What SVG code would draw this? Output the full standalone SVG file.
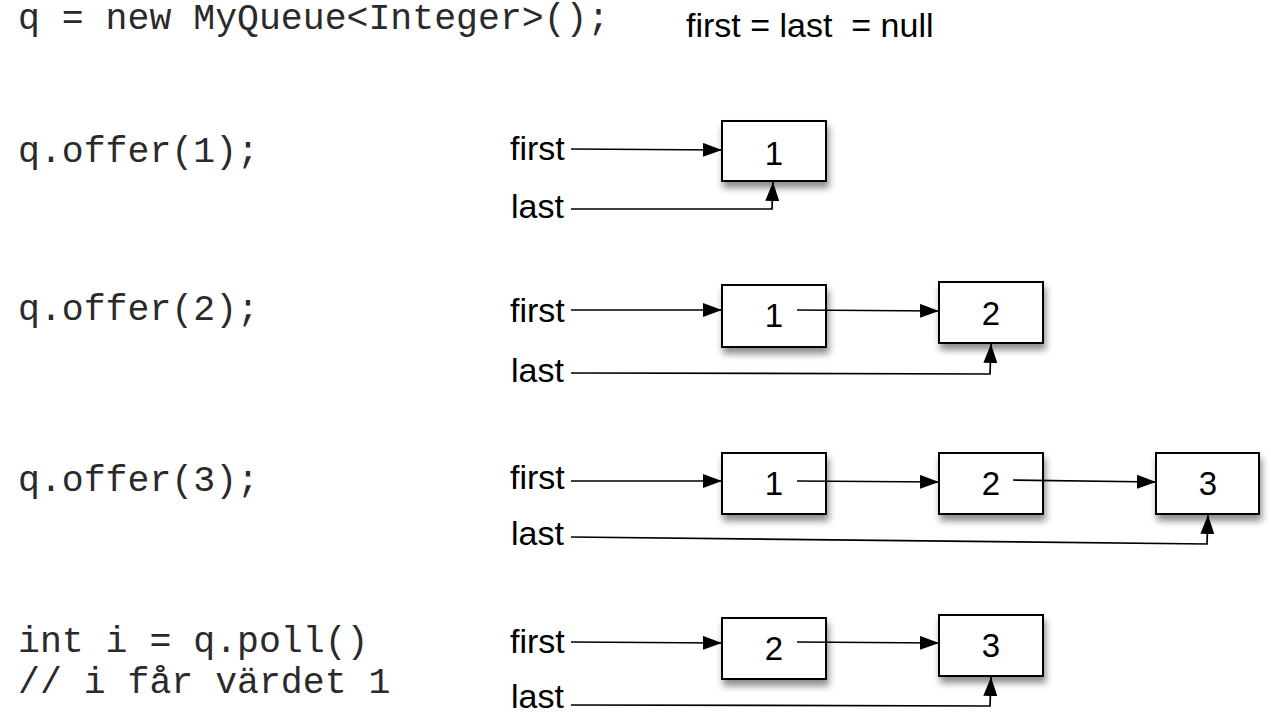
<svg xmlns="http://www.w3.org/2000/svg" width="1271" height="713" viewBox="0 0 1271 713">
<defs>
<filter id="sh" x="-20%" y="-20%" width="150%" height="170%">
<feDropShadow dx="2" dy="6" stdDeviation="3.5" flood-color="#000" flood-opacity="0.45"/>
</filter>
<marker id="ah" markerWidth="19" markerHeight="14" refX="19" refY="7" orient="auto" markerUnits="userSpaceOnUse">
<path d="M0,0 L19,7 L0,14 Z" fill="#000"/>
</marker>
</defs>
<style>
.code{font-family:"Liberation Mono","DejaVu Sans Mono",monospace;font-size:36.5px;fill:#2a2a2a}
.lbl{font-family:"Liberation Sans",Arial,sans-serif;font-size:34px;fill:#000;white-space:pre}
.num{font-family:"Liberation Sans",Arial,sans-serif;font-size:33px;fill:#000;text-anchor:middle}
.box rect{fill:#fff;stroke:#000;stroke-width:2;filter:url(#sh)}
.con path{fill:none;stroke:#000;stroke-width:1.7;marker-end:url(#ah)}
</style>
<rect width="1271" height="713" fill="#fff"/>
<g id="code">
<text class="code" x="18" y="29">q = new MyQueue&lt;Integer&gt;();</text>
<text class="code" x="18" y="162">q.offer(1);</text>
<text class="code" x="18" y="320">q.offer(2);</text>
<text class="code" x="18" y="491">q.offer(3);</text>
<text class="code" x="18" y="652">int i = q.poll()</text>
<text class="code" x="18" y="693">// i får värdet 1</text>
</g>
<text class="lbl" x="686" y="37" xml:space="preserve">first = last  = null</text>
<g id="labels">
<text class="lbl" x="510" y="160">first</text>
<text class="lbl" x="511" y="218">last</text>
<text class="lbl" x="510" y="322">first</text>
<text class="lbl" x="511" y="382">last</text>
<text class="lbl" x="510" y="489">first</text>
<text class="lbl" x="511" y="545">last</text>
<text class="lbl" x="510" y="653">first</text>
<text class="lbl" x="511" y="708">last</text>
</g>
<g id="r1n1" class="box"><rect x="722" y="121" width="104" height="60"/><text class="num" x="774" y="165">1</text></g>
<g id="r2n1" class="box"><rect x="722" y="285" width="104" height="62"/><text class="num" x="774" y="327">1</text></g>
<g id="r2n2" class="box"><rect x="939" y="282" width="104" height="61"/><text class="num" x="991" y="325">2</text></g>
<g id="r3n1" class="box"><rect x="722" y="453" width="104" height="61"/><text class="num" x="774" y="495">1</text></g>
<g id="r3n2" class="box"><rect x="939" y="453" width="104" height="61"/><text class="num" x="991" y="495">2</text></g>
<g id="r3n3" class="box"><rect x="1156" y="453" width="103" height="61"/><text class="num" x="1208" y="495">3</text></g>
<g id="r4n1" class="box"><rect x="722" y="618" width="104" height="61"/><text class="num" x="774" y="660">2</text></g>
<g id="r4n2" class="box"><rect x="939" y="615" width="104" height="61"/><text class="num" x="991" y="657">3</text></g>
<g id="connectors" class="con">
<path d="M571,149 L722,150"/>
<path d="M571,209 L772,209 L773,182"/>
<path d="M571,310 L722,310"/>
<path d="M797,310 L939,311"/>
<path d="M571,373 L990,374 L991,344"/>
<path d="M571,481 L722,481"/>
<path d="M797,481 L939,482"/>
<path d="M1013,480 L1156,482"/>
<path d="M571,537 L1207,544 L1208,515"/>
<path d="M571,642 L722,643"/>
<path d="M797,642 L939,643"/>
<path d="M571,705 L990,706 L991,677"/>
</g>
</svg>
